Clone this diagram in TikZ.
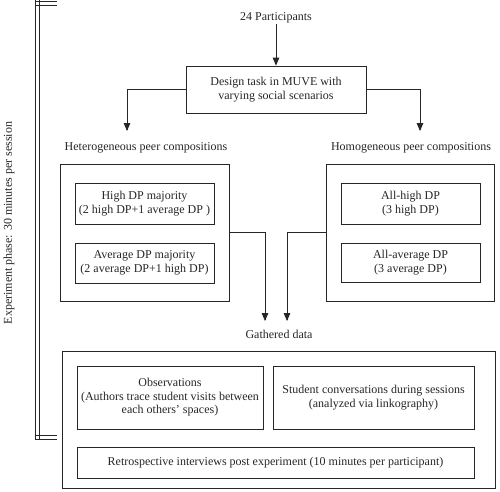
\documentclass[tikz,border=0pt]{standalone}
\usepackage{fontspec}
\setmainfont{Liberation Serif}
\usetikzlibrary{positioning, arrows}

\tikzset{
	box/.style={draw, thick, rectangle, align=center, inner sep=1pt},
	lbl/.style={align=center, inner sep=1pt},
	arr/.style={-triangle 45, thick}
}

\begin{document}
\begin{tikzpicture}[x=1pt, y=-1pt, font=\fontsize{12}{13.5}\selectfont, color=black!85]
		\useasboundingbox (0,0) rectangle (500,491);
		% top
		\node[lbl] (part) at (276,18) {24 Participants};
		\node[box, minimum width=180, minimum height=47] (design) at (276,89.5) {Design task in MUVE with\\varying social scenarios};
		\draw[arr] (part) -- (design);
		% the two branches
		\node[lbl] (hetlbl) at (146,148) {Heterogeneous peer compositions};
		\node[lbl] (homlbl) at (411,148) {Homogeneous peer compositions};
		\coordinate (hetin) at (127,131);
		\coordinate (homin) at (420,131);
		\draw[arr] (design.west) -| (hetin);
		\draw[arr] (design.east) -| (homin);
		\node[box, minimum width=169, minimum height=137] (hetbox) at (144.5,232.5) {};
		\node[box, minimum width=139, minimum height=41] (himaj) at (144.5,203.5) {High DP majority\\(2 high DP+1 average DP )};
		\node[box, minimum width=139, minimum height=40] (avmaj) at (144.5,263) {Average DP majority\\(2 average DP+1 high DP)};
		\node[box, minimum width=168, minimum height=137] (hombox) at (410,232.5) {};
		\node[box, minimum width=139, minimum height=41] (allhi) at (410.5,203.5) {All-high DP\\(3 high DP)};
		\node[box, minimum width=139, minimum height=39] (allav) at (410.5,262.5) {All-average DP\\(3 average DP)};
		% gathered data
		\node[lbl] (gath) at (279,334) {Gathered data};
		\coordinate (gin1) at (265,321);
		\coordinate (gin2) at (287,321);
		\draw[arr] (hetbox.east) -| (gin1);
		\draw[arr] (hombox.west) -| (gin2);
		\node[box, minimum width=433, minimum height=137] (databox) at (278.5,419.5) {};
		\node[box, minimum width=186, minimum height=63] (obs) at (170,397.5) {Observations\\(Authors trace student visits between\\each others' spaces)};
		\node[box, minimum width=201, minimum height=63] (conv) at (373.5,397.5) {Student conversations during sessions\\(analyzed via linkography)};
		\node[box, minimum width=397, minimum height=31] (retro) at (275.5,462.5) {Retrospective interviews post experiment (10 minutes per participant)};
		% phase bracket
		\draw[line width=0.7pt] (57,1.5) -- (35,1.5) (57,5) -- (35,5);
		\draw[line width=0.7pt] (57,435) -- (35,435) (57,439) -- (35,439);
		\draw[line width=0.7pt] (35,0) -- (35,439) (39,0) -- (39,439);
		\node[lbl, rotate=90] (phase) at (9,223) {Experiment phase: 30 minutes per session};
	\end{tikzpicture}
\end{document}
